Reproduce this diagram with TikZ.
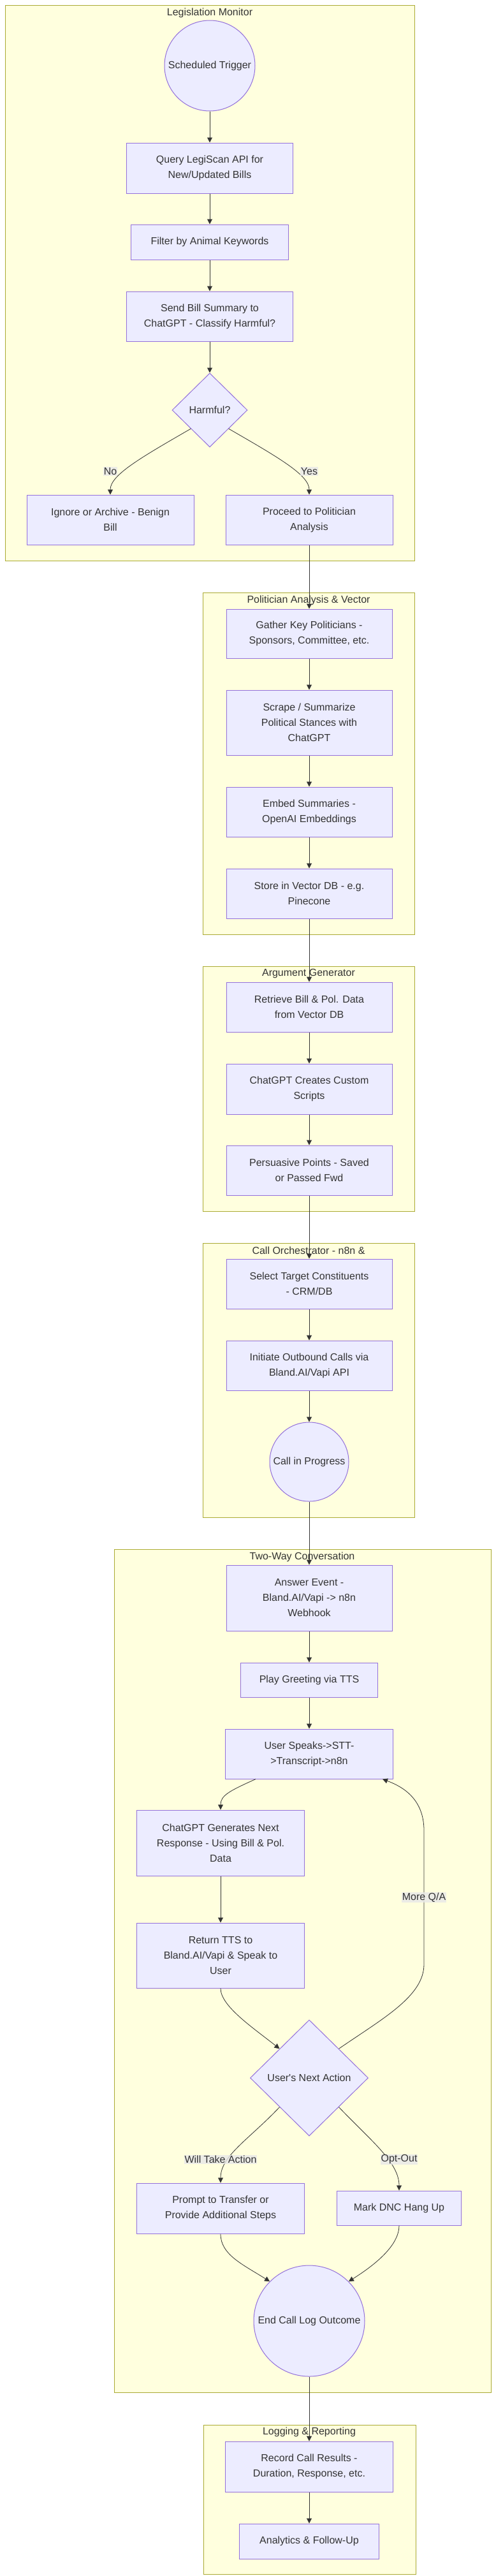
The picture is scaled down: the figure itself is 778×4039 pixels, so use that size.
\documentclass[tikz,border=0pt]{standalone}
\usepackage{fontspec}
\newfontfamily\mmd{Liberation Sans}
\usetikzlibrary{shapes.geometric,arrows.meta,calc}
\definecolor{clfill}{HTML}{FFFFDE}
\definecolor{cldraw}{HTML}{AAAA33}
\definecolor{ndfill}{HTML}{ECECFF}
\definecolor{nddraw}{HTML}{9370DB}
\definecolor{txt}{HTML}{333333}
\definecolor{lblbg}{HTML}{E8E8E8}
\definecolor{edgec}{HTML}{333333}
\tikzset{
 base/.style={font=\mmd\fontsize{16pt}{24pt}\selectfont, text=txt, align=center},
 box/.style={base, rectangle, draw=nddraw, fill=ndfill, line width=1pt, inner sep=0pt},
 roundnode/.style={base, circle, draw=nddraw, fill=ndfill, line width=1pt, inner sep=0pt},
 decision/.style={base, diamond, draw=nddraw, fill=ndfill, line width=1pt, inner sep=0pt},
 cluster/.style={draw=cldraw, fill=clfill, line width=1pt},
 ctitle/.style={base, inner sep=0pt},
 flow/.style={draw=edgec, line width=1pt, -{Triangle[length=8pt,width=8pt]}},
 curvy/.style={draw=edgec, line width=0.8pt, -{Triangle[length=8pt,width=8pt]}},
 elabel/.style={base, fill=lblbg, fill opacity=0.8, text opacity=1, inner sep=1pt},
}
\begin{document}
\begin{tikzpicture}[x=1pt,y=-1pt]
\useasboundingbox[fill=white] (0,0) rectangle (778,4039);
% clusters
\draw[cluster] (8,8) rectangle (650,879);
\node[ctitle] (t1) at (329,20) {Legislation Monitor};
\draw[cluster] (318,929) rectangle (650,1465);
\node[ctitle] (t2) at (484,941) {Politician Analysis \& Vector};
\draw[cluster] (318,1515) rectangle (650,1899);
\node[ctitle] (t3) at (484,1527) {Argument Generator};
\draw[cluster] (318,1949) rectangle (650,2379);
\node[ctitle] (t4) at (484,1961) {Call Orchestrator - n8n \&};
\draw[cluster] (179,2429) rectangle (770,3751);
\node[ctitle] (t5) at (474,2441) {Two-Way Conversation};
\draw[cluster] (319,3802) rectangle (652,4036);
\node[ctitle] (t6) at (485,3813) {Logging \& Reporting};
% nodes: legislation
\node[roundnode, minimum size=142] (trig) at (329,103) {Scheduled Trigger};
\node[box, minimum width=261, minimum height=79] (query) at (329,263.5) {Query LegiScan API for\\New/Updated Bills};
\node[box, minimum width=247, minimum height=55] (filter) at (329,379.5) {Filter by Animal Keywords};
\node[box, minimum width=261, minimum height=78] (send) at (329,496) {Send Bill Summary to\\ChatGPT - Classify Harmful?};
\node[decision, minimum width=118, minimum height=116] (harm) at (329,643) {Harmful?};
\node[box, minimum width=262, minimum height=78] (ignore) at (173,815) {Ignore or Archive - Benign\\Bill};
\node[box, minimum width=262, minimum height=78] (proceed) at (485,815) {Proceed to Politician\\Analysis};
% politician
\node[box, minimum width=260, minimum height=77] (gather) at (485,993.5) {Gather Key Politicians -\\Sponsors, Committee, etc.};
\node[box, minimum width=260, minimum height=102] (scrape) at (485,1133) {Scrape / Summarize\\Political Stances with\\ChatGPT};
\node[box, minimum width=260, minimum height=78] (embed) at (485,1273) {Embed Summaries -\\OpenAI Embeddings};
\node[box, minimum width=260, minimum height=78] (store) at (485,1401) {Store in Vector DB - e.g.\\Pinecone};
% argument
\node[box, minimum width=260, minimum height=78] (retrieve) at (485,1579) {Retrieve Bill \& Pol. Data\\from Vector DB};
\node[box, minimum width=260, minimum height=79] (creates) at (485,1707.5) {ChatGPT Creates Custom\\Scripts};
\node[box, minimum width=260, minimum height=78] (persuade) at (485,1835) {Persuasive Points - Saved\\or Passed Fwd};
% call orchestrator
\node[box, minimum width=260, minimum height=78] (select) at (485,2013) {Select Target Constituents\\- CRM/DB};
\node[box, minimum width=260, minimum height=78] (initiate) at (485,2141) {Initiate Outbound Calls via\\Bland.AI/Vapi API};
\node[roundnode, minimum size=124] (prog) at (485,2292) {Call in Progress};
% two-way
\node[box, minimum width=260, minimum height=103] (answer) at (485,2505.5) {Answer Event -\\Bland.AI/Vapi -> n8n\\Webhook};
\node[box, minimum width=215, minimum height=54] (play) at (485,2634) {Play Greeting via TTS};
\node[box, minimum width=263, minimum height=78] (us) at (485,2750) {User Speaks->STT-\\>Transcript->n8n};
\node[box, minimum width=263, minimum height=103] (gen) at (346,2889.5) {ChatGPT Generates Next\\Response - Using Bill \& Pol.\\Data};
\node[box, minimum width=263, minimum height=102] (ret) at (346,3066) {Return TTS to\\Bland.AI/Vapi \& Speak to\\User};
\node[decision, minimum width=185, minimum height=182] (dia) at (485,3258) {User's Next Action};
\node[box, minimum width=263, minimum height=79] (prompt) at (346,3462.5) {Prompt to Transfer or\\Provide Additional Steps};
\node[box, minimum width=195, minimum height=54] (dnc) at (626,3462) {Mark DNC Hang Up};
\node[roundnode, minimum size=174] (endc) at (485,3639) {End Call Log Outcome};
% logging
\node[box, minimum width=263, minimum height=79] (record) at (485,3867.5) {Record Call Results -\\Duration, Response, etc.};
\node[box, minimum width=219, minimum height=55] (anal) at (485,3984.5) {Analytics \& Follow-Up};
% straight edges
\draw[flow] (trig) -- (query);
\draw[flow] (query) -- (filter);
\draw[flow] (filter) -- (send);
\draw[flow] (send) -- (harm);
\draw[flow] (proceed) -- (gather);
\draw[flow] (gather) -- (scrape);
\draw[flow] (scrape) -- (embed);
\draw[flow] (embed) -- (store);
\draw[flow] (store) -- (retrieve);
\draw[flow] (retrieve) -- (creates);
\draw[flow] (creates) -- (persuade);
\draw[flow] (persuade) -- (select);
\draw[flow] (select) -- (initiate);
\draw[flow] (initiate) -- (prog);
\draw[flow] (prog) -- (answer);
\draw[flow] (answer) -- (play);
\draw[flow] (play) -- (us);
\draw[flow] (gen) -- (ret);
\draw[flow] (endc) -- (record);
\draw[flow] (record) -- (anal);
% curved edges
\draw[curvy] (harm.south west) .. controls (220,718) and (173,745) .. (ignore.north);
\draw[curvy] (harm.south east) .. controls (438,718) and (485,745) .. (proceed.north);
\draw[curvy] ([xshift=-84pt]us.south) .. controls (360,2808) and (346,2815) .. (gen.north);
\draw[curvy] (ret.south) .. controls (346,3145) and (395,3178) .. (dia.north west);
\draw[curvy] (dia.north east) .. controls (600,3165) and (665,3130) .. (665,3080) -- node[elabel] (mqa) {More Q/A} (665,2870) .. controls (665,2818) and (628,2800) .. ([xshift=115pt]us.south);
\draw[curvy] (dia.south west) .. controls (390,3355) and (346,3380) .. (prompt.north);
\draw[curvy] (dia.south east) .. controls (580,3355) and (626,3390) .. (dnc.north);
\draw[curvy] (prompt.south) .. controls (346,3535) and (380,3550) .. (endc.north west);
\draw[curvy] (dnc.south) .. controls (626,3520) and (590,3550) .. (endc.north east);
% edge labels
\node[elabel] (lno) at (173,739) {No};
\node[elabel] (lyes) at (485,739) {Yes};
\node[elabel] (lwill) at (346,3386) {Will Take Action};
\node[elabel] (lopt) at (626,3386) {Opt-Out};
\end{tikzpicture}
\end{document}
